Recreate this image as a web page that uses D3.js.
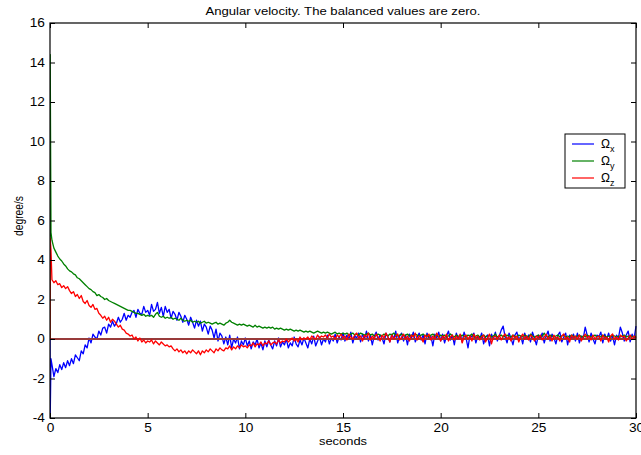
<!DOCTYPE html>
<html><head><meta charset="utf-8">
<script src="https://cdn.jsdelivr.net/npm/d3@7"></script>
<style>
html,body{margin:0;padding:0;background:#fff;}
svg{display:block;font-family:"Liberation Sans",Arial,Helvetica,sans-serif;}
</style></head>
<body>
<svg id="chart" width="641" height="455"></svg>
<script>
// ---------- data ----------
const titleText = "Angular velocity. The balanced values are zero.";
const xLabel = "seconds";
const yLabel = "degree/s";
const xTicks = [0, 5, 10, 15, 20, 25, 30];
const yTicks = [-4, -2, 0, 2, 4, 6, 8, 10, 12, 14, 16];
const seriesNames = ["x", "y", "z"];
const seriesColors = ["#0000ff", "#008000", "#ff0000"];

// first samples (sharp start transient), then one sample each 0.1 s
const headTime = [0, 0.01, 0.05];
const gridStep = 0.1;

const omegaX = [0, -4.0, -1.0,
  -1.3, -1.9, -1.5, -1.7, -1.3, -1.55, -1.2, -1.45, -1.1, -1.35,
  -1.0, -1.25, -0.8, -0.95, -1.1, -0.6, -0.75, -0.3, -0.45, 0.05,
  -0.2, 0.25, 0.1, 0.0, 0.4, 0.2, 0.55, 0.6, 0.3, 0.75,
  0.6, 0.9, 0.65, 0.8, 1.1, 0.85, 1.0, 1.3, 0.95, 1.2,
  1.1, 1.35, 1.45, 1.1, 1.5, 1.3, 1.25, 1.65, 1.35, 1.45,
  1.2, 1.75, 1.4, 1.5, 1.85, 1.3, 1.6, 1.15, 1.65, 1.35,
  1.5, 1.05, 1.4, 1.25, 0.95, 1.35, 1.15, 0.85, 1.2, 1.0,
  0.7, 1.1, 0.85, 0.55, 0.95, 0.65, 0.9, 0.4, 0.75, 0.6,
  0.25, 0.65, 0.45, 0.05, 0.5, -0.1, 0.3, 0.15, -0.25, 0.1,
  -0.3, 0.2, -0.45, 0.0, -0.2, 0.1, -0.5, -0.1, -0.3, 0.05,
  -0.35, -0.1, -0.5, -0.15, -0.3, 0.0, -0.45, -0.2, -0.55, -0.1,
  -0.4, -0.05, -0.3, -0.5, -0.1, -0.35, 0.05, -0.4, -0.15, -0.3,
  0.0, -0.45, -0.2, -0.35, 0.1, -0.25, -0.4, -0.05, -0.3, 0.05,
  -0.2, -0.45, 0.0, -0.25, 0.15, -0.35, -0.1, 0.1, -0.3, 0.0,
  -0.15, 0.2, -0.25, 0.05, -0.1, 0.25, -0.2, 0.1, -0.05, 0.3,
  -0.1, 0.2, 0.0, 0.35, -0.2, 0.15, 0.05, 0.3, -0.15, 0.25,
  0.0, 0.4, -0.1, 0.2, -0.3, 0.15, 0.35, -0.05, 0.2, 0.05,
  -0.25, 0.3, 0.1, -0.15, 0.25, 0.0, 0.4, -0.2, 0.15, 0.3,
  -0.1, 0.2, -0.3, 0.25, 0.05, 0.35, -0.15, 0.1, 0.3, -0.05,
  0.2, -0.25, 0.3, 0.0, 0.15, -0.35, 0.25, 0.05, 0.35, -0.1,
  0.25, -0.2, 0.15, 0.4, -0.05, 0.2, -0.3, 0.3, 0.0, 0.2,
  -0.15, 0.35, 0.05, -0.45, 0.2, 0.1, 0.3, -0.2, 0.15, 0.0,
  0.3, -0.25, 0.1, 0.2, -0.35, 0.25, 0.0, 0.35, -0.1, 0.15,
  0.45, 0.65, 0.1, -0.2, 0.3, 0.05, -0.3, 0.2, 0.35, -0.05,
  0.15, -0.25, 0.3, 0.0, 0.2, -0.15, 0.35, 0.05, -0.3, 0.2,
  0.0, 0.3, -0.2, 0.15, 0.4, -0.1, 0.25, 0.05, -0.25, 0.2,
  0.35, -0.15, 0.1, 0.3, -0.3, 0.2, 0.0, 0.25, -0.1, 0.3,
  -0.2, 0.15, 0.05, 0.6, 0.2, -0.15, 0.3, 0.0, -0.25, 0.2,
  0.1, 0.35, -0.2, 0.25, 0.0, 0.3, -0.1, 0.15, -0.3, 0.2,
  0.05, 0.6, 0.3, -0.1, 0.2, 0.4, -0.15, 0.25, 0.0, 0.65];

const omegaY = [0, 14.4, 5.4,
  5.0, 4.6, 4.4, 4.2, 4.05, 3.95, 3.8, 3.7, 3.55, 3.45,
  3.4, 3.3, 3.25, 3.1, 3.05, 2.95, 2.85, 2.75, 2.65, 2.55,
  2.5, 2.4, 2.35, 2.2, 2.25, 2.15, 2.1, 2.0, 2.05, 1.95,
  1.9, 1.85, 1.8, 1.75, 1.7, 1.65, 1.6, 1.55, 1.5, 1.45,
  1.45, 1.4, 1.35, 1.3, 1.3, 1.25, 1.2, 1.25, 1.15, 1.2,
  1.15, 1.2, 1.1, 1.25, 1.35, 1.15, 1.1, 1.15, 1.05, 1.1,
  1.05, 1.1, 1.0, 1.05, 1.0, 0.95, 1.05, 0.95, 0.9, 0.95,
  0.9, 0.95, 0.85, 0.9, 0.85, 0.9, 0.8, 0.85, 0.9, 0.8,
  0.85, 0.8, 0.75, 0.8, 0.85, 0.75, 0.8, 0.75, 0.7, 0.8,
  0.85, 0.95, 0.85, 0.8, 0.75, 0.7, 0.75, 0.7, 0.75, 0.7,
  0.65, 0.7, 0.65, 0.6, 0.7, 0.6, 0.65, 0.6, 0.55, 0.6,
  0.55, 0.6, 0.55, 0.6, 0.5, 0.55, 0.5, 0.55, 0.5, 0.45,
  0.5, 0.45, 0.5, 0.45, 0.4, 0.45, 0.4, 0.45, 0.4, 0.35,
  0.4, 0.35, 0.4, 0.35, 0.3, 0.35, 0.4, 0.35, 0.3, 0.35,
  0.3, 0.35, 0.3, 0.25, 0.3, 0.35, 0.25, 0.3, 0.25, 0.3,
  0.25, 0.3, 0.2, 0.25, 0.3, 0.2, 0.25, 0.2, 0.3, 0.25,
  0.2, 0.25, 0.3, 0.2, 0.25, 0.15, 0.2, 0.25, 0.2, 0.15,
  0.25, 0.2, 0.15, 0.25, 0.2, 0.3, 0.2, 0.15, 0.2, 0.25,
  0.15, 0.2, 0.25, 0.15, 0.2, 0.15, 0.25, 0.2, 0.15, 0.2,
  0.25, 0.15, 0.2, 0.1, 0.2, 0.25, 0.15, 0.2, 0.1, 0.2,
  0.15, 0.2, 0.1, 0.15, 0.25, 0.15, 0.1, 0.2, 0.15, 0.1,
  0.2, 0.15, 0.1, 0.2, 0.15, 0.25, 0.1, 0.15, 0.2, 0.1,
  0.15, 0.2, 0.1, 0.15, 0.2, 0.1, 0.15, 0.25, 0.1, 0.15,
  0.2, 0.1, 0.15, 0.2, 0.15, 0.1, 0.2, 0.15, 0.1, 0.2,
  0.15, 0.1, 0.2, 0.15, 0.1, 0.25, 0.15, 0.1, 0.15, 0.2,
  0.1, 0.15, 0.3, 0.15, 0.1, 0.2, 0.15, 0.1, 0.15, 0.2,
  0.1, 0.15, 0.2, 0.1, 0.15, 0.1, 0.2, 0.15, 0.1, 0.15,
  0.2, 0.1, 0.15, 0.1, 0.2, 0.15, 0.1, 0.15, 0.2, 0.1,
  0.15, 0.1, 0.2, 0.15, 0.1, 0.15, 0.1, 0.2, 0.15, 0.1,
  0.15, 0.1, 0.15, 0.2, 0.1, 0.15, 0.1, 0.15, 0.1, 0.15];

const omegaZ = [0, 5.1, 4.5,
  3.0, 2.85, 2.95, 2.75, 2.8, 2.6, 2.7, 2.55, 2.65, 2.45,
  2.3, 2.4, 2.15, 2.25, 2.05, 2.2, 1.9, 1.8, 1.95, 1.7,
  1.6, 1.75, 1.5, 1.55, 1.3, 1.2, 1.05, 1.15, 0.95, 1.1,
  0.85, 1.0, 0.9, 0.75, 0.6, 0.7, 0.5, 0.45, 0.3, 0.25,
  0.15, 0.2, 0.0, 0.1, -0.1, 0.05, -0.15, -0.05, -0.2, -0.1,
  -0.15, -0.05, -0.25, -0.1, -0.2, -0.3, -0.15, -0.25, -0.35, -0.3,
  -0.4, -0.35, -0.5, -0.6, -0.5, -0.65, -0.55, -0.7, -0.6, -0.75,
  -0.6, -0.7, -0.55, -0.65, -0.75, -0.6, -0.8, -0.6, -0.7, -0.55,
  -0.65, -0.5, -0.6, -0.7, -0.5, -0.6, -0.45, -0.55, -0.6, -0.45,
  -0.5, -0.35, -0.55, -0.4, -0.5, -0.35, -0.45, -0.3, -0.4, -0.35,
  -0.45, -0.3, -0.35, -0.2, -0.4, -0.25, -0.3, -0.15, -0.35, -0.2,
  -0.25, -0.1, -0.3, -0.2, -0.15, -0.25, -0.05, -0.2, -0.1, -0.15,
  0.0, -0.15, -0.05, 0.05, -0.1, 0.0, -0.15, 0.1, -0.05, 0.05,
  0.0, 0.1, -0.05, 0.15, 0.05, 0.0, 0.2, 0.05, 0.15, 0.1,
  0.2, 0.05, 0.25, 0.1, 0.15, 0.0, 0.2, 0.1, 0.25, 0.05,
  0.15, -0.05, 0.25, 0.1, 0.0, 0.2, 0.3, 0.05, 0.15, -0.1,
  0.2, 0.1, 0.3, -0.05, 0.15, 0.0, 0.25, 0.1, -0.1, 0.2,
  0.05, 0.3, 0.1, -0.15, 0.2, 0.0, 0.15, 0.25, -0.05, 0.1,
  0.25, 0.0, 0.15, -0.1, 0.2, 0.1, 0.3, -0.05, 0.15, 0.05,
  -0.15, 0.2, 0.1, 0.25, -0.05, 0.15, 0.0, 0.3, 0.1, -0.1,
  0.15, 0.05, 0.25, -0.1, 0.1, 0.2, -0.05, 0.15, 0.0, 0.25,
  -0.2, 0.1, 0.2, 0.0, 0.15, -0.1, 0.25, 0.05, 0.15, -0.05,
  0.1, 0.2, -0.15, 0.05, 0.25, -0.25, 0.1, 0.15, 0.0, 0.2,
  -0.05, 0.15, 0.25, 0.0, 0.1, -0.1, 0.2, 0.05, 0.15, -0.15,
  0.1, 0.25, 0.0, 0.15, -0.05, 0.2, 0.1, -0.1, 0.15, 0.05,
  0.2, -0.05, 0.1, 0.25, 0.0, 0.15, -0.1, 0.2, 0.05, 0.1,
  -0.1, 0.15, 0.25, 0.0, 0.1, -0.15, 0.2, 0.05, 0.15, 0.0,
  0.2, -0.1, 0.1, 0.25, 0.05, 0.15, -0.05, 0.2, 0.0, 0.1,
  0.15, -0.1, 0.2, 0.05, 0.1, -0.15, 0.15, 0.25, 0.0, 0.1,
  -0.05, 0.2, 0.1, 0.15, -0.1, 0.05, 0.2, 0.0, 0.15, 0.05];

const zeroLine = [0, 0];
const zeroTime = [0, 30];

// ---------- layout ----------
const W = 641, H = 455;
const plot = {left: 50, right: 636, top: 23, bottom: 418};
const FONT = 12;

const svg = d3.select("#chart");
svg.append("rect").attr("width", W).attr("height", H).attr("fill", "#fff");

const time = headTime.concat(d3.range(1, omegaX.length - headTime.length + 1).map(i => +(i * gridStep).toFixed(2)));

const x = d3.scaleLinear().domain([0, 30]).range([plot.left, plot.right]);
const y = d3.scaleLinear().domain([-4, 16]).range([plot.bottom, plot.top]);

svg.append("clipPath").attr("id", "clip").append("rect")
  .attr("x", plot.left).attr("y", plot.top - 1)
  .attr("width", plot.right - plot.left + 1).attr("height", plot.bottom - plot.top + 2);

const g = svg.append("g").attr("clip-path", "url(#clip)");
const line = d3.line().x(d => x(d[0])).y(d => y(d[1]));

const series = [omegaX, omegaY, omegaZ];
function drawSeries(i) {
  g.append("path")
    .datum(time.map((t, k) => [t, series[i][k]]))
    .attr("d", line)
    .attr("fill", "none")
    .attr("stroke", seriesColors[i])
    .attr("stroke-width", 1.3)
    .attr("stroke-linejoin", "round");
}
drawSeries(0);
drawSeries(1);
g.append("path")
  .datum(zeroTime.map((t, k) => [t, zeroLine[k]]))
  .attr("d", line)
  .attr("fill", "none")
  .attr("stroke", "#983a3a")
  .attr("stroke-width", 2);
drawSeries(2);

// axes (ticks inward, on all four sides)
function styleAxis(sel) {
  sel.select(".domain").remove();
  sel.selectAll(".tick line").attr("stroke", "#000").attr("stroke-width", 1);
  sel.selectAll(".tick text").attr("fill", "#000")
    .style("font-size", FONT + "px")
    .style("font-family", "\"Liberation Sans\",Arial,sans-serif")
    .attr("transform", "scale(1.14,1)");
}
const fmt = d => (d < 0 ? "-" + Math.abs(d) : String(d));

svg.append("g").attr("transform", `translate(0,${plot.bottom})`)
  .call(d3.axisBottom(x).tickValues(xTicks).tickSize(-5).tickPadding(5.5).tickFormat(fmt))
  .call(styleAxis);
svg.append("g").attr("transform", `translate(0,${plot.top})`)
  .call(d3.axisTop(x).tickValues(xTicks).tickSize(-5).tickFormat(""))
  .call(styleAxis);
svg.append("g").attr("transform", `translate(${plot.left},0)`)
  .call(d3.axisLeft(y).tickValues(yTicks).tickSize(-5).tickPadding(4.5).tickFormat(fmt))
  .call(styleAxis);
svg.append("g").attr("transform", `translate(${plot.right},0)`)
  .call(d3.axisRight(y).tickValues(yTicks).tickSize(-5).tickFormat(""))
  .call(styleAxis);

// box
svg.append("rect").attr("x", plot.left).attr("y", plot.top)
  .attr("width", plot.right - plot.left).attr("height", plot.bottom - plot.top)
  .attr("fill", "none").attr("stroke", "#000").attr("stroke-width", 1.2);

// title & labels
svg.append("text").attr("x", (plot.left + plot.right) / 2).attr("y", 15)
  .attr("text-anchor", "middle").style("font-size", "11.5px")
  .attr("textLength", 275).attr("lengthAdjust", "spacingAndGlyphs")
  .text(titleText);
svg.append("text").attr("x", (plot.left + plot.right) / 2).attr("y", 445)
  .attr("text-anchor", "middle").style("font-size", "11.5px")
  .attr("textLength", 48).attr("lengthAdjust", "spacingAndGlyphs")
  .text(xLabel);
svg.append("text").attr("transform", "translate(22.5,216) rotate(-90)")
  .attr("text-anchor", "middle").style("font-size", "13.5px")
  .attr("textLength", 40).attr("lengthAdjust", "spacingAndGlyphs")
  .text(yLabel);

// legend
const leg = svg.append("g");
leg.append("rect").attr("x", 565).attr("y", 134).attr("width", 60).attr("height", 54)
  .attr("fill", "#fff").attr("stroke", "#000").attr("stroke-width", 1);
seriesNames.forEach((n, i) => {
  const yy = 144 + i * 17;
  leg.append("line").attr("x1", 572).attr("x2", 594).attr("y1", yy).attr("y2", yy)
    .attr("stroke", seriesColors[i]).attr("stroke-width", 1.2);
  const t = leg.append("text").attr("x", 601).attr("y", yy + 4).style("font-size", "12px");
  t.append("tspan").text("\u03A9");
  t.append("tspan").attr("dy", 4).style("font-size", "9px").text(n);
});
</script>
</body></html>
